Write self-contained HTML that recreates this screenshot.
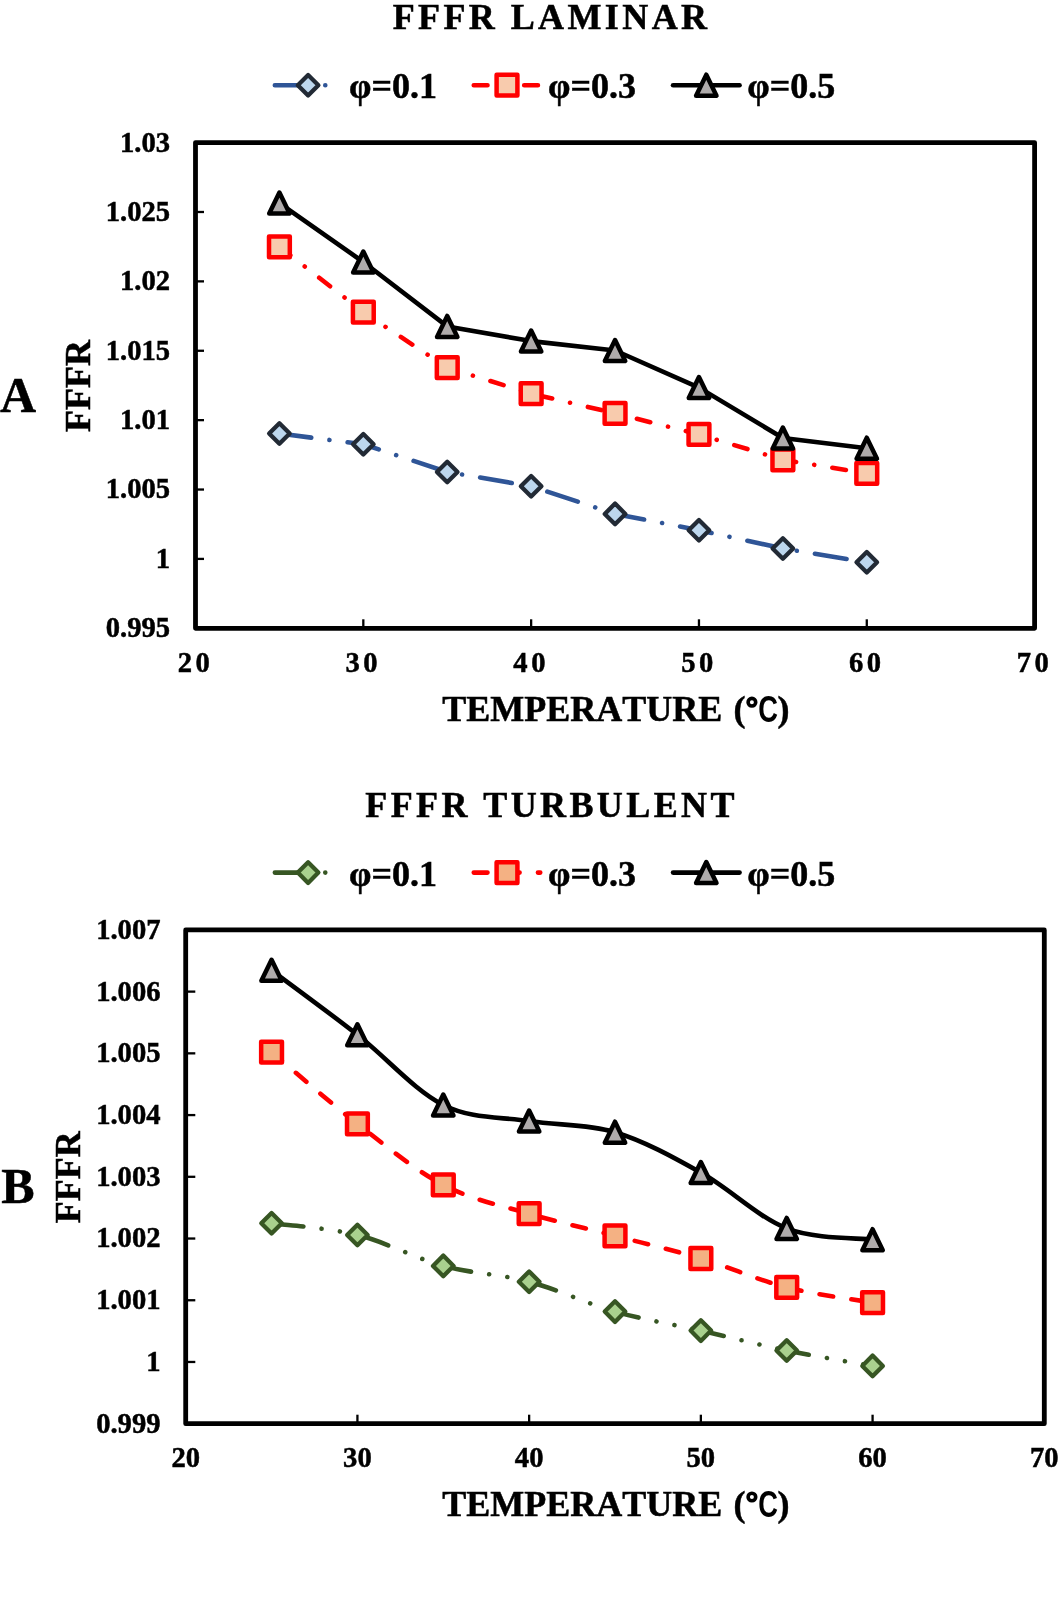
<!DOCTYPE html>
<html><head><meta charset="utf-8"><title>FFFR charts</title>
<style>
html,body{margin:0;padding:0;background:#fff;}
body{width:1061px;height:1607px;overflow:hidden;font-family:"Liberation Serif",serif;}
svg{display:block;font-kerning:none;will-change:transform;}
</style></head><body>
<svg width="1061" height="1607" viewBox="0 0 1061 1607">
<rect width="100%" height="100%" fill="#fff"/>
<line x1="195.5" y1="211.99" x2="204" y2="211.99" stroke="#000" stroke-width="2.3"/>
<line x1="195.5" y1="281.37" x2="204" y2="281.37" stroke="#000" stroke-width="2.3"/>
<line x1="195.5" y1="350.76" x2="204" y2="350.76" stroke="#000" stroke-width="2.3"/>
<line x1="195.5" y1="420.14" x2="204" y2="420.14" stroke="#000" stroke-width="2.3"/>
<line x1="195.5" y1="489.53" x2="204" y2="489.53" stroke="#000" stroke-width="2.3"/>
<line x1="195.5" y1="558.91" x2="204" y2="558.91" stroke="#000" stroke-width="2.3"/>
<line x1="363.32" y1="628.3" x2="363.32" y2="619.3" stroke="#000" stroke-width="2.3"/>
<line x1="531.14" y1="628.3" x2="531.14" y2="619.3" stroke="#000" stroke-width="2.3"/>
<line x1="698.96" y1="628.3" x2="698.96" y2="619.3" stroke="#000" stroke-width="2.3"/>
<line x1="866.78" y1="628.3" x2="866.78" y2="619.3" stroke="#000" stroke-width="2.3"/>
<rect x="195.5" y="142.6" width="839.1" height="485.7" fill="none" stroke="#000" stroke-width="4.8" stroke-linejoin="round"/>
<text x="170.1" y="151.5" font-size="28.6" text-anchor="end" font-family="Liberation Serif, serif" font-weight="bold" fill="#000" stroke="#000" stroke-width="0.5">1.03</text>
<text x="170.1" y="220.89" font-size="28.6" text-anchor="end" font-family="Liberation Serif, serif" font-weight="bold" fill="#000" stroke="#000" stroke-width="0.5">1.025</text>
<text x="170.1" y="290.27" font-size="28.6" text-anchor="end" font-family="Liberation Serif, serif" font-weight="bold" fill="#000" stroke="#000" stroke-width="0.5">1.02</text>
<text x="170.1" y="359.66" font-size="28.6" text-anchor="end" font-family="Liberation Serif, serif" font-weight="bold" fill="#000" stroke="#000" stroke-width="0.5">1.015</text>
<text x="170.1" y="429.04" font-size="28.6" text-anchor="end" font-family="Liberation Serif, serif" font-weight="bold" fill="#000" stroke="#000" stroke-width="0.5">1.01</text>
<text x="170.1" y="498.43" font-size="28.6" text-anchor="end" font-family="Liberation Serif, serif" font-weight="bold" fill="#000" stroke="#000" stroke-width="0.5">1.005</text>
<text x="170.1" y="567.81" font-size="28.6" text-anchor="end" font-family="Liberation Serif, serif" font-weight="bold" fill="#000" stroke="#000" stroke-width="0.5">1</text>
<text x="170.1" y="637.2" font-size="28.6" text-anchor="end" font-family="Liberation Serif, serif" font-weight="bold" fill="#000" stroke="#000" stroke-width="0.5">0.995</text>
<text x="195.5" y="671.5" font-size="28.6" text-anchor="middle" letter-spacing="3.5" font-family="Liberation Serif, serif" font-weight="bold" fill="#000" stroke="#000" stroke-width="0.5">20</text>
<text x="363.32" y="671.5" font-size="28.6" text-anchor="middle" letter-spacing="3.5" font-family="Liberation Serif, serif" font-weight="bold" fill="#000" stroke="#000" stroke-width="0.5">30</text>
<text x="531.14" y="671.5" font-size="28.6" text-anchor="middle" letter-spacing="3.5" font-family="Liberation Serif, serif" font-weight="bold" fill="#000" stroke="#000" stroke-width="0.5">40</text>
<text x="698.96" y="671.5" font-size="28.6" text-anchor="middle" letter-spacing="3.5" font-family="Liberation Serif, serif" font-weight="bold" fill="#000" stroke="#000" stroke-width="0.5">50</text>
<text x="866.78" y="671.5" font-size="28.6" text-anchor="middle" letter-spacing="3.5" font-family="Liberation Serif, serif" font-weight="bold" fill="#000" stroke="#000" stroke-width="0.5">60</text>
<text x="1034.6" y="671.5" font-size="28.6" text-anchor="middle" letter-spacing="3.5" font-family="Liberation Serif, serif" font-weight="bold" fill="#000" stroke="#000" stroke-width="0.5">70</text>
<text x="551.6" y="29.2" font-size="36" text-anchor="middle" letter-spacing="3.4" font-family="Liberation Serif, serif" font-weight="bold" fill="#000" stroke="#000" stroke-width="0.5">FFFR LAMINAR</text>
<text x="442.3" y="721.2" font-size="36" font-family="Liberation Serif, serif" font-weight="bold" fill="#000" stroke="#000" stroke-width="0.5">TEMPERATURE</text>
<text x="733.6" y="721.2" font-size="36" font-family="Liberation Serif, serif" font-weight="bold" fill="#000" stroke="#000" stroke-width="0.5">(</text>
<circle cx="751.9" cy="702.2" r="3.8" fill="none" stroke="#000" stroke-width="3.6"/>
<text transform="translate(758.2 722.3) scale(0.78 1.07)" font-size="35" font-family="Liberation Sans, sans-serif" font-weight="bold" fill="#000">C</text>
<text x="777.4" y="721.2" font-size="36" font-family="Liberation Serif, serif" font-weight="bold" fill="#000" stroke="#000" stroke-width="0.5">)</text>
<text transform="translate(90.1 432) rotate(-90)" font-size="36" font-family="Liberation Serif, serif" font-weight="bold" fill="#000" stroke="#000" stroke-width="0.5">FFFR</text>
<text x="0" y="411.8" font-size="50" font-family="Liberation Serif, serif" font-weight="bold" fill="#000" stroke="#000" stroke-width="0.5">A</text>
<path d="M279.41 433.5 L363.32 444.3 L447.23 472 L531.14 486.3 L615.05 513.9 L698.96 530.2 L782.87 548.5 L866.78 562.3" fill="none" stroke="#2F5597" stroke-width="4.6" stroke-linecap="round" stroke-linejoin="round" stroke-dasharray="32.09 18.34 0.01 18.34"/>
<path d="M279.41 423.2 L289.71 433.5 L279.41 443.8 L269.11 433.5 Z" fill="#BDD7EE" stroke="#222A35" stroke-width="4.25" stroke-linejoin="round"/>
<path d="M363.32 434 L373.62 444.3 L363.32 454.6 L353.02 444.3 Z" fill="#BDD7EE" stroke="#222A35" stroke-width="4.25" stroke-linejoin="round"/>
<path d="M447.23 461.7 L457.53 472 L447.23 482.3 L436.93 472 Z" fill="#BDD7EE" stroke="#222A35" stroke-width="4.25" stroke-linejoin="round"/>
<path d="M531.14 476 L541.44 486.3 L531.14 496.6 L520.84 486.3 Z" fill="#BDD7EE" stroke="#222A35" stroke-width="4.25" stroke-linejoin="round"/>
<path d="M615.05 503.6 L625.35 513.9 L615.05 524.2 L604.75 513.9 Z" fill="#BDD7EE" stroke="#222A35" stroke-width="4.25" stroke-linejoin="round"/>
<path d="M698.96 519.9 L709.26 530.2 L698.96 540.5 L688.66 530.2 Z" fill="#BDD7EE" stroke="#222A35" stroke-width="4.25" stroke-linejoin="round"/>
<path d="M782.87 538.2 L793.17 548.5 L782.87 558.8 L772.57 548.5 Z" fill="#BDD7EE" stroke="#222A35" stroke-width="4.25" stroke-linejoin="round"/>
<path d="M866.78 552 L877.08 562.3 L866.78 572.6 L856.48 562.3 Z" fill="#BDD7EE" stroke="#222A35" stroke-width="4.25" stroke-linejoin="round"/>
<path d="M279.41 246.8 L363.32 312.1 L447.23 367.7 L531.14 393.6 L615.05 413.3 L698.96 434.4 L782.87 459.8 L866.78 473.3" fill="none" stroke="#FF0000" stroke-width="4.6" stroke-linecap="round" stroke-linejoin="round" stroke-dasharray="13.75 18.34 0.01 18.34"/>
<rect x="269.01" y="236.4" width="20.8" height="20.8" fill="#F8CBAD" stroke="#FF0000" stroke-width="4.5" stroke-linejoin="round"/>
<rect x="352.92" y="301.7" width="20.8" height="20.8" fill="#F8CBAD" stroke="#FF0000" stroke-width="4.5" stroke-linejoin="round"/>
<rect x="436.83" y="357.3" width="20.8" height="20.8" fill="#F8CBAD" stroke="#FF0000" stroke-width="4.5" stroke-linejoin="round"/>
<rect x="520.74" y="383.2" width="20.8" height="20.8" fill="#F8CBAD" stroke="#FF0000" stroke-width="4.5" stroke-linejoin="round"/>
<rect x="604.65" y="402.9" width="20.8" height="20.8" fill="#F8CBAD" stroke="#FF0000" stroke-width="4.5" stroke-linejoin="round"/>
<rect x="688.56" y="424" width="20.8" height="20.8" fill="#F8CBAD" stroke="#FF0000" stroke-width="4.5" stroke-linejoin="round"/>
<rect x="772.47" y="449.4" width="20.8" height="20.8" fill="#F8CBAD" stroke="#FF0000" stroke-width="4.5" stroke-linejoin="round"/>
<rect x="856.38" y="462.9" width="20.8" height="20.8" fill="#F8CBAD" stroke="#FF0000" stroke-width="4.5" stroke-linejoin="round"/>
<path d="M279.41 203.1 L363.32 262 L447.23 326.4 L531.14 341.1 L615.05 350.5 L698.96 387.6 L782.87 438 L866.78 448.2" fill="none" stroke="#000" stroke-width="4.6" stroke-linecap="round" stroke-linejoin="round"/>
<path d="M279.41 192.6 L289.61 213.6 L269.21 213.6 Z" fill="#AFABAB" stroke="#000" stroke-width="4.5" stroke-linejoin="round"/>
<path d="M363.32 251.5 L373.52 272.5 L353.12 272.5 Z" fill="#AFABAB" stroke="#000" stroke-width="4.5" stroke-linejoin="round"/>
<path d="M447.23 315.9 L457.43 336.9 L437.03 336.9 Z" fill="#AFABAB" stroke="#000" stroke-width="4.5" stroke-linejoin="round"/>
<path d="M531.14 330.6 L541.34 351.6 L520.94 351.6 Z" fill="#AFABAB" stroke="#000" stroke-width="4.5" stroke-linejoin="round"/>
<path d="M615.05 340 L625.25 361 L604.85 361 Z" fill="#AFABAB" stroke="#000" stroke-width="4.5" stroke-linejoin="round"/>
<path d="M698.96 377.1 L709.16 398.1 L688.76 398.1 Z" fill="#AFABAB" stroke="#000" stroke-width="4.5" stroke-linejoin="round"/>
<path d="M782.87 427.5 L793.07 448.5 L772.67 448.5 Z" fill="#AFABAB" stroke="#000" stroke-width="4.5" stroke-linejoin="round"/>
<path d="M866.78 437.7 L876.98 458.7 L856.58 458.7 Z" fill="#AFABAB" stroke="#000" stroke-width="4.5" stroke-linejoin="round"/>
<line x1="185.7" y1="991.62" x2="195.3" y2="991.62" stroke="#000" stroke-width="2.3"/>
<line x1="185.7" y1="1053.35" x2="195.3" y2="1053.35" stroke="#000" stroke-width="2.3"/>
<line x1="185.7" y1="1115.08" x2="195.3" y2="1115.08" stroke="#000" stroke-width="2.3"/>
<line x1="185.7" y1="1176.8" x2="195.3" y2="1176.8" stroke="#000" stroke-width="2.3"/>
<line x1="185.7" y1="1238.53" x2="195.3" y2="1238.53" stroke="#000" stroke-width="2.3"/>
<line x1="185.7" y1="1300.25" x2="195.3" y2="1300.25" stroke="#000" stroke-width="2.3"/>
<line x1="185.7" y1="1361.97" x2="195.3" y2="1361.97" stroke="#000" stroke-width="2.3"/>
<line x1="357.42" y1="1423.7" x2="357.42" y2="1414.7" stroke="#000" stroke-width="2.3"/>
<line x1="529.14" y1="1423.7" x2="529.14" y2="1414.7" stroke="#000" stroke-width="2.3"/>
<line x1="700.86" y1="1423.7" x2="700.86" y2="1414.7" stroke="#000" stroke-width="2.3"/>
<line x1="872.58" y1="1423.7" x2="872.58" y2="1414.7" stroke="#000" stroke-width="2.3"/>
<rect x="185.7" y="929.9" width="858.6" height="493.8" fill="none" stroke="#000" stroke-width="4.8" stroke-linejoin="round"/>
<text x="160.5" y="938.8" font-size="28.6" text-anchor="end" font-family="Liberation Serif, serif" font-weight="bold" fill="#000" stroke="#000" stroke-width="0.5">1.007</text>
<text x="160.5" y="1000.52" font-size="28.6" text-anchor="end" font-family="Liberation Serif, serif" font-weight="bold" fill="#000" stroke="#000" stroke-width="0.5">1.006</text>
<text x="160.5" y="1062.25" font-size="28.6" text-anchor="end" font-family="Liberation Serif, serif" font-weight="bold" fill="#000" stroke="#000" stroke-width="0.5">1.005</text>
<text x="160.5" y="1123.98" font-size="28.6" text-anchor="end" font-family="Liberation Serif, serif" font-weight="bold" fill="#000" stroke="#000" stroke-width="0.5">1.004</text>
<text x="160.5" y="1185.7" font-size="28.6" text-anchor="end" font-family="Liberation Serif, serif" font-weight="bold" fill="#000" stroke="#000" stroke-width="0.5">1.003</text>
<text x="160.5" y="1247.43" font-size="28.6" text-anchor="end" font-family="Liberation Serif, serif" font-weight="bold" fill="#000" stroke="#000" stroke-width="0.5">1.002</text>
<text x="160.5" y="1309.15" font-size="28.6" text-anchor="end" font-family="Liberation Serif, serif" font-weight="bold" fill="#000" stroke="#000" stroke-width="0.5">1.001</text>
<text x="160.5" y="1370.88" font-size="28.6" text-anchor="end" font-family="Liberation Serif, serif" font-weight="bold" fill="#000" stroke="#000" stroke-width="0.5">1</text>
<text x="160.5" y="1432.6" font-size="28.6" text-anchor="end" font-family="Liberation Serif, serif" font-weight="bold" fill="#000" stroke="#000" stroke-width="0.5">0.999</text>
<text x="185.7" y="1466.5" font-size="28.6" text-anchor="middle" font-family="Liberation Serif, serif" font-weight="bold" fill="#000" stroke="#000" stroke-width="0.5">20</text>
<text x="357.42" y="1466.5" font-size="28.6" text-anchor="middle" font-family="Liberation Serif, serif" font-weight="bold" fill="#000" stroke="#000" stroke-width="0.5">30</text>
<text x="529.14" y="1466.5" font-size="28.6" text-anchor="middle" font-family="Liberation Serif, serif" font-weight="bold" fill="#000" stroke="#000" stroke-width="0.5">40</text>
<text x="700.86" y="1466.5" font-size="28.6" text-anchor="middle" font-family="Liberation Serif, serif" font-weight="bold" fill="#000" stroke="#000" stroke-width="0.5">50</text>
<text x="872.58" y="1466.5" font-size="28.6" text-anchor="middle" font-family="Liberation Serif, serif" font-weight="bold" fill="#000" stroke="#000" stroke-width="0.5">60</text>
<text x="1044.3" y="1466.5" font-size="28.6" text-anchor="middle" font-family="Liberation Serif, serif" font-weight="bold" fill="#000" stroke="#000" stroke-width="0.5">70</text>
<text x="551.6" y="816.6" font-size="36" text-anchor="middle" letter-spacing="3.4" font-family="Liberation Serif, serif" font-weight="bold" fill="#000" stroke="#000" stroke-width="0.5">FFFR TURBULENT</text>
<text x="442.3" y="1516" font-size="36" font-family="Liberation Serif, serif" font-weight="bold" fill="#000" stroke="#000" stroke-width="0.5">TEMPERATURE</text>
<text x="733.6" y="1516" font-size="36" font-family="Liberation Serif, serif" font-weight="bold" fill="#000" stroke="#000" stroke-width="0.5">(</text>
<circle cx="751.9" cy="1497" r="3.8" fill="none" stroke="#000" stroke-width="3.6"/>
<text transform="translate(758.2 1517.1) scale(0.78 1.07)" font-size="35" font-family="Liberation Sans, sans-serif" font-weight="bold" fill="#000">C</text>
<text x="777.4" y="1516" font-size="36" font-family="Liberation Serif, serif" font-weight="bold" fill="#000" stroke="#000" stroke-width="0.5">)</text>
<text transform="translate(80 1223.2) rotate(-90)" font-size="36" font-family="Liberation Serif, serif" font-weight="bold" fill="#000" stroke="#000" stroke-width="0.5">FFFR</text>
<text x="1.2" y="1203" font-size="50" font-family="Liberation Serif, serif" font-weight="bold" fill="#000" stroke="#000" stroke-width="0.5">B</text>
<path d="M271.56 1223.2 C285.87 1225.17 328.8 1227.88 357.42 1235 C386.04 1242.12 414.66 1258.12 443.28 1265.9 C471.9 1273.68 500.52 1274.08 529.14 1281.7 C557.76 1289.32 586.38 1303.45 615 1311.6 C643.62 1319.75 672.24 1324.12 700.86 1330.6 C729.48 1337.08 758.1 1344.62 786.72 1350.5 C815.34 1356.38 858.27 1363.33 872.58 1365.9" fill="none" stroke="#375623" stroke-width="4.6" stroke-linecap="round" stroke-linejoin="round" stroke-dasharray="32.09 18.34 0.01 18.34 0.01 18.34"/>
<path d="M271.56 1212.9 L281.86 1223.2 L271.56 1233.5 L261.26 1223.2 Z" fill="#A9D18E" stroke="#375623" stroke-width="4.25" stroke-linejoin="round"/>
<path d="M357.42 1224.7 L367.72 1235 L357.42 1245.3 L347.12 1235 Z" fill="#A9D18E" stroke="#375623" stroke-width="4.25" stroke-linejoin="round"/>
<path d="M443.28 1255.6 L453.58 1265.9 L443.28 1276.2 L432.98 1265.9 Z" fill="#A9D18E" stroke="#375623" stroke-width="4.25" stroke-linejoin="round"/>
<path d="M529.14 1271.4 L539.44 1281.7 L529.14 1292 L518.84 1281.7 Z" fill="#A9D18E" stroke="#375623" stroke-width="4.25" stroke-linejoin="round"/>
<path d="M615 1301.3 L625.3 1311.6 L615 1321.9 L604.7 1311.6 Z" fill="#A9D18E" stroke="#375623" stroke-width="4.25" stroke-linejoin="round"/>
<path d="M700.86 1320.3 L711.16 1330.6 L700.86 1340.9 L690.56 1330.6 Z" fill="#A9D18E" stroke="#375623" stroke-width="4.25" stroke-linejoin="round"/>
<path d="M786.72 1340.2 L797.02 1350.5 L786.72 1360.8 L776.42 1350.5 Z" fill="#A9D18E" stroke="#375623" stroke-width="4.25" stroke-linejoin="round"/>
<path d="M872.58 1355.6 L882.88 1365.9 L872.58 1376.2 L862.28 1365.9 Z" fill="#A9D18E" stroke="#375623" stroke-width="4.25" stroke-linejoin="round"/>
<path d="M271.56 1052.1 C285.87 1064.05 328.8 1101.67 357.42 1123.8 C386.04 1145.93 414.66 1169.92 443.28 1184.9 C471.9 1199.88 500.52 1205.22 529.14 1213.7 C557.76 1222.18 586.38 1228.33 615 1235.8 C643.62 1243.27 672.24 1249.9 700.86 1258.5 C729.48 1267.1 758.1 1280.05 786.72 1287.4 C815.34 1294.75 858.27 1300.07 872.58 1302.6" fill="none" stroke="#FF0000" stroke-width="4.6" stroke-linecap="round" stroke-linejoin="round" stroke-dasharray="13.75 18.34"/>
<rect x="261.16" y="1041.7" width="20.8" height="20.8" fill="#F4B183" stroke="#FF0000" stroke-width="4.5" stroke-linejoin="round"/>
<rect x="347.02" y="1113.4" width="20.8" height="20.8" fill="#F4B183" stroke="#FF0000" stroke-width="4.5" stroke-linejoin="round"/>
<rect x="432.88" y="1174.5" width="20.8" height="20.8" fill="#F4B183" stroke="#FF0000" stroke-width="4.5" stroke-linejoin="round"/>
<rect x="518.74" y="1203.3" width="20.8" height="20.8" fill="#F4B183" stroke="#FF0000" stroke-width="4.5" stroke-linejoin="round"/>
<rect x="604.6" y="1225.4" width="20.8" height="20.8" fill="#F4B183" stroke="#FF0000" stroke-width="4.5" stroke-linejoin="round"/>
<rect x="690.46" y="1248.1" width="20.8" height="20.8" fill="#F4B183" stroke="#FF0000" stroke-width="4.5" stroke-linejoin="round"/>
<rect x="776.32" y="1277" width="20.8" height="20.8" fill="#F4B183" stroke="#FF0000" stroke-width="4.5" stroke-linejoin="round"/>
<rect x="862.18" y="1292.2" width="20.8" height="20.8" fill="#F4B183" stroke="#FF0000" stroke-width="4.5" stroke-linejoin="round"/>
<path d="M271.56 970.3 C285.87 981.05 328.8 1012.35 357.42 1034.8 C386.04 1057.25 414.66 1090.62 443.28 1105 C471.9 1119.38 500.52 1116.57 529.14 1121.1 C557.76 1125.63 586.38 1123.62 615 1132.2 C643.62 1140.78 672.24 1156.57 700.86 1172.6 C729.48 1188.63 758.1 1217.22 786.72 1228.4 C815.34 1239.58 858.27 1237.82 872.58 1239.7" fill="none" stroke="#000" stroke-width="4.6" stroke-linecap="round" stroke-linejoin="round"/>
<path d="M271.56 959.8 L281.76 980.8 L261.36 980.8 Z" fill="#AFABAB" stroke="#000" stroke-width="4.5" stroke-linejoin="round"/>
<path d="M357.42 1024.3 L367.62 1045.3 L347.22 1045.3 Z" fill="#AFABAB" stroke="#000" stroke-width="4.5" stroke-linejoin="round"/>
<path d="M443.28 1094.5 L453.48 1115.5 L433.08 1115.5 Z" fill="#AFABAB" stroke="#000" stroke-width="4.5" stroke-linejoin="round"/>
<path d="M529.14 1110.6 L539.34 1131.6 L518.94 1131.6 Z" fill="#AFABAB" stroke="#000" stroke-width="4.5" stroke-linejoin="round"/>
<path d="M615 1121.7 L625.2 1142.7 L604.8 1142.7 Z" fill="#AFABAB" stroke="#000" stroke-width="4.5" stroke-linejoin="round"/>
<path d="M700.86 1162.1 L711.06 1183.1 L690.66 1183.1 Z" fill="#AFABAB" stroke="#000" stroke-width="4.5" stroke-linejoin="round"/>
<path d="M786.72 1217.9 L796.92 1238.9 L776.52 1238.9 Z" fill="#AFABAB" stroke="#000" stroke-width="4.5" stroke-linejoin="round"/>
<path d="M872.58 1229.2 L882.78 1250.2 L862.38 1250.2 Z" fill="#AFABAB" stroke="#000" stroke-width="4.5" stroke-linejoin="round"/>
<path d="M274.85 85.2 L341.35 85.2" fill="none" stroke="#2F5597" stroke-width="4.6" stroke-linecap="round" stroke-linejoin="round" stroke-dasharray="32.09 18.34 0.01 18.34"/>
<path d="M308.1 74.9 L318.4 85.2 L308.1 95.5 L297.8 85.2 Z" fill="#BDD7EE" stroke="#222A35" stroke-width="4.25" stroke-linejoin="round"/>
<text x="349.1" y="98.4" font-size="36" font-family="Liberation Serif, serif" font-weight="bold" fill="#000" stroke="#000" stroke-width="0.5">φ=0.1</text>
<path d="M473.75 85.2 L540.25 85.2" fill="none" stroke="#FF0000" stroke-width="4.6" stroke-linecap="round" stroke-linejoin="round" stroke-dasharray="13.75 18.34 0.01 18.34"/>
<rect x="496.6" y="74.8" width="20.8" height="20.8" fill="#F8CBAD" stroke="#FF0000" stroke-width="4.5" stroke-linejoin="round"/>
<text x="548" y="98.4" font-size="36" font-family="Liberation Serif, serif" font-weight="bold" fill="#000" stroke="#000" stroke-width="0.5">φ=0.3</text>
<path d="M673.05 85.2 L739.55 85.2" fill="none" stroke="#000" stroke-width="4.6" stroke-linecap="round" stroke-linejoin="round"/>
<path d="M706.3 74.7 L716.5 95.7 L696.1 95.7 Z" fill="#AFABAB" stroke="#000" stroke-width="4.5" stroke-linejoin="round"/>
<text x="747.3" y="98.4" font-size="36" font-family="Liberation Serif, serif" font-weight="bold" fill="#000" stroke="#000" stroke-width="0.5">φ=0.5</text>
<path d="M274.85 872.6 L341.35 872.6" fill="none" stroke="#375623" stroke-width="4.6" stroke-linecap="round" stroke-linejoin="round" stroke-dasharray="32.09 18.34 0.01 18.34 0.01 18.34"/>
<path d="M308.1 862.3 L318.4 872.6 L308.1 882.9 L297.8 872.6 Z" fill="#A9D18E" stroke="#375623" stroke-width="4.25" stroke-linejoin="round"/>
<text x="349.1" y="885.8" font-size="36" font-family="Liberation Serif, serif" font-weight="bold" fill="#000" stroke="#000" stroke-width="0.5">φ=0.1</text>
<path d="M473.75 872.6 L540.25 872.6" fill="none" stroke="#FF0000" stroke-width="4.6" stroke-linecap="round" stroke-linejoin="round" stroke-dasharray="13.75 18.34"/>
<rect x="496.6" y="862.2" width="20.8" height="20.8" fill="#F4B183" stroke="#FF0000" stroke-width="4.5" stroke-linejoin="round"/>
<text x="548" y="885.8" font-size="36" font-family="Liberation Serif, serif" font-weight="bold" fill="#000" stroke="#000" stroke-width="0.5">φ=0.3</text>
<path d="M673.05 872.6 L739.55 872.6" fill="none" stroke="#000" stroke-width="4.6" stroke-linecap="round" stroke-linejoin="round"/>
<path d="M706.3 862.1 L716.5 883.1 L696.1 883.1 Z" fill="#AFABAB" stroke="#000" stroke-width="4.5" stroke-linejoin="round"/>
<text x="747.3" y="885.8" font-size="36" font-family="Liberation Serif, serif" font-weight="bold" fill="#000" stroke="#000" stroke-width="0.5">φ=0.5</text>
</svg>
</body></html>
